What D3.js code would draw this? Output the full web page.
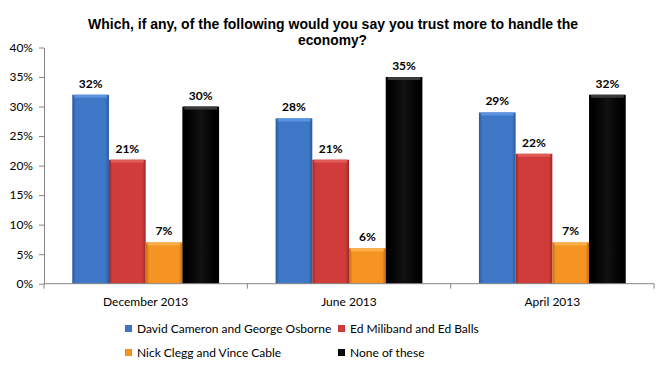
<!DOCTYPE html>
<html>
<head>
<meta charset="utf-8">
<script src="https://cdn.jsdelivr.net/npm/d3@7"></script>
<style>
  body { margin: 0; background: #fff; }
  svg { display: block; }
</style>
</head>
<body>
<div id="chart"></div>
<script>
// chart data
const periods = ["December 2013", "June 2013", "April 2013"];
const seriesNames = ["David Cameron and George Osborne", "Ed Miliband and Ed Balls", "Nick Clegg and Vince Cable", "None of these"];
const cameronOsborne = [32, 28, 29];
const milibandBalls = [21, 21, 22];
const cleggCable = [7, 6, 7];
const noneOfThese = [30, 35, 32];
const yTicks = [0, 5, 10, 15, 20, 25, 30, 35, 40];

const seriesValues = [cameronOsborne, milibandBalls, cleggCable, noneOfThese];
const colors = ["#3d77c6", "#cf3c3a", "#f59323", "#000000"];
const darkColors = ["#2b5a9c", "#9c2a28", "#c46d12", "#000000"];
const lightColors = ["#5a93e0", "#e05a56", "#fbb04a", "#3a3a3a"];

const width = 670, height = 372;
const margin = { left: 44, right: 16, top: 47.5, bottom: 88.3 };

const svg = d3.select("#chart").append("svg")
    .attr("width", width)
    .attr("height", height);

// gradients for the bevelled bar look
const defs = svg.append("defs");
colors.forEach((c, i) => {
    const g = defs.append("linearGradient")
        .attr("id", "grad" + i)
        .attr("x1", "0").attr("x2", "1").attr("y1", "0").attr("y2", "0");
    g.append("stop").attr("offset", "0").attr("stop-color", darkColors[i]);
    g.append("stop").attr("offset", "0.1").attr("stop-color", c);
    g.append("stop").attr("offset", "0.5").attr("stop-color", i === 3 ? "#111" : c);
    g.append("stop").attr("offset", "0.9").attr("stop-color", c);
    g.append("stop").attr("offset", "1").attr("stop-color", darkColors[i]);
});

const x0 = d3.scaleBand()
    .domain(periods)
    .range([margin.left, width - margin.right])
    .padding(0);

const step = x0.bandwidth();
const x1 = d3.scaleBand()
    .domain(d3.range(seriesNames.length))
    .range([step * 0.139, step * 0.861])
    .padding(0);

const y = d3.scaleLinear()
    .domain([0, 40])
    .range([height - margin.bottom, margin.top]);

// title (condensed to fit the original width)
svg.append("text")
    .attr("x", 88).attr("y", 29)
    .attr("textLength", 490)
    .attr("lengthAdjust", "spacingAndGlyphs")
    .style("font-family", "Liberation Sans, Arial, sans-serif")
    .style("font-weight", "bold")
    .style("font-size", "14px")
    .text("Which, if any, of the following would you say you trust more to handle the");
svg.append("text")
    .attr("x", 298).attr("y", 45)
    .attr("textLength", 69)
    .attr("lengthAdjust", "spacingAndGlyphs")
    .style("font-family", "Liberation Sans, Arial, sans-serif")
    .style("font-weight", "bold")
    .style("font-size", "14px")
    .text("economy?");

// y axis
const yAxis = svg.append("g")
    .attr("transform", `translate(${margin.left},0)`)
    .call(d3.axisLeft(y).tickValues(yTicks).tickFormat(d => d + "%").tickSize(5).tickSizeOuter(0));
yAxis.select(".domain").attr("stroke", "#868686");
yAxis.selectAll(".tick line").attr("stroke", "#868686");
yAxis.selectAll(".tick text")
    .attr("x", -11)
    .style("font-family", "Lato, Open Sans, sans-serif")
    .style("font-size", "12px")
    .attr("fill", "#000");

// bars
const groups = svg.append("g").selectAll("g")
    .data(periods)
    .enter().append("g")
    .attr("transform", d => `translate(${x0(d)},0)`);

groups.each(function (p, pi) {
    const g = d3.select(this);
    seriesValues.forEach((vals, si) => {
        const v = vals[pi];
        const bx = x1(si), bw = x1.bandwidth();
        g.append("rect")
            .attr("x", bx)
            .attr("y", y(v))
            .attr("width", bw)
            .attr("height", y(0) - y(v))
            .attr("fill", `url(#grad${si})`);
        // top bevel
        g.append("rect")
            .attr("x", bx + 2)
            .attr("y", y(v))
            .attr("width", bw - 4)
            .attr("height", 3)
            .attr("fill", lightColors[si]);
        g.append("text")
            .attr("x", bx + bw / 2)
            .attr("y", y(v) - 7)
            .attr("text-anchor", "middle")
            .style("font-family", "Lato, Open Sans, sans-serif")
            .style("font-weight", "bold")
            .style("font-size", "12px")
            .text(v + "%");
    });
});

// x axis
const xAxis = svg.append("g")
    .attr("transform", `translate(0,${y(0)})`);
xAxis.append("line")
    .attr("x1", margin.left).attr("x2", width - margin.right)
    .attr("stroke", "#868686");
const boundaries = [margin.left].concat(periods.map(p => x0(p) + step));
xAxis.selectAll(".tk")
    .data(boundaries)
    .enter().append("line")
    .attr("x1", d => d).attr("x2", d => d)
    .attr("y1", 0).attr("y2", 5)
    .attr("stroke", "#868686");
xAxis.selectAll(".lbl")
    .data(periods)
    .enter().append("text")
    .attr("x", d => x0(d) + step / 2)
    .attr("y", 22)
    .attr("text-anchor", "middle")
    .style("font-family", "Lato, Open Sans, sans-serif")
    .style("font-size", "12px")
    .text(d => d);

// legend
const legendPos = [[125, 329], [338, 329], [125, 353], [338, 353]];
const legend = svg.append("g");
seriesNames.forEach((name, i) => {
    const [lx, ly] = legendPos[i];
    legend.append("rect")
        .attr("x", lx).attr("y", ly - 4)
        .attr("width", 7).attr("height", 7)
        .attr("fill", `url(#grad${i})`);
    legend.append("text")
        .attr("x", lx + 12).attr("y", ly + 4)
        .style("font-family", "Lato, Open Sans, sans-serif")
        .style("font-size", "12px")
        .text(name);
});
</script>
</body>
</html>
